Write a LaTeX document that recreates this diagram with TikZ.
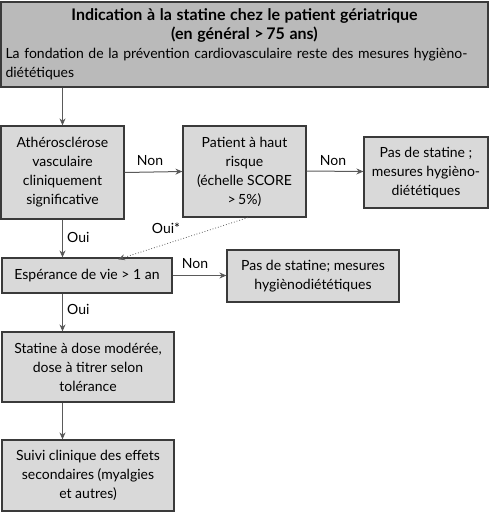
\documentclass[tikz,border=0pt]{standalone}
\usepackage{fontspec}
\setmainfont{Lato}
\usetikzlibrary{arrows.meta,calc}
\definecolor{boxfill}{HTML}{D9D9D9}
\definecolor{topfill}{HTML}{BABABA}
\definecolor{edge}{HTML}{3A3A3A}
\definecolor{arr}{HTML}{5A5A5A}
\begin{document}
\begin{tikzpicture}[x=1pt,y=-1pt,
  every node/.style={font=\fontsize{14}{19}\selectfont, text=black},
  box/.style={draw=edge, line width=1.2pt, fill=boxfill, align=center, inner sep=2pt},
  flow/.style={draw=arr, line width=1pt, -{Stealth[length=7pt,width=6pt,fill=black!85]}},
  dotflow/.style={draw=arr, line width=0.8pt, dotted, -{Stealth[length=7pt,width=6pt,open]}},
  lbl/.style={inner sep=1pt}]
\useasboundingbox (0,0) rectangle (489,512);
\node[box, fill=topfill, minimum width=487pt, minimum height=85pt, text width=478pt, align=left] (top) at (244.5,44.5)
 {{\centering\fontsize{16}{19}\selectfont\bfseries Indication à la statine chez le patient gériatrique\\(en général >\,75 ans)\par}\raggedright La fondation de la prévention cardiovasculaire reste des mesures hygièno-\\diététiques};
\node[box, minimum width=123pt, minimum height=93pt] (ath) at (62.5,172.5) {Athérosclérose\\vasculaire\\cliniquement\\significative};
\node[box, minimum width=123pt, minimum height=91pt] (pat) at (244.5,171.5) {Patient à haut\\risque\\(échelle SCORE\\>\,5\%)};
\node[box, minimum width=124pt, minimum height=71pt] (pas1) at (426,172.5) {Pas de statine ;\\mesures hygièno-\\diététiques};
\node[box, minimum width=170pt, minimum height=35pt] (esp) at (87,275.5) {Espérance de vie > 1 an};
\node[box, minimum width=172pt, minimum height=52pt] (pas2) at (313,276) {Pas de statine; mesures\\hygiènodiététiques};
\node[box, minimum width=172pt, minimum height=70pt] (sta) at (88,367) {Statine à dose modérée,\\dose à titrer selon\\tolérance};
\node[box, minimum width=172pt, minimum height=71pt] (sui) at (88,475.5) {Suivi clinique des effets\\secondaires (myalgies\\et autres)};
\draw[flow] (ath.north |- top.south) -- (ath.north);
\draw[flow] (ath.east) -- (pat.west);
\draw[flow] ([yshift=0.5pt]pat.east) -- (pat.east -| pas1.west);
\draw[flow] (ath.south) -- (ath.south |- esp.north);
\draw[flow] (esp.east) -- (esp.east -| pas2.west);
\draw[flow] (ath.south |- esp.south) -- (ath.south |- sta.north);
\draw[flow] (ath.south |- sta.south) -- (ath.south |- sui.north);
\coordinate (dotend) at ([xshift=31pt,yshift=-2pt]esp.north);
\draw[dotflow] ([xshift=3.5pt]pat.south) -- (dotend);
\node[lbl] (n1) at (150,161) {Non};
\node[lbl] (n2) at (333,161) {Non};
\node[lbl] (n3) at (195,264) {Non};
\node[lbl, anchor=west] (o1) at (66,237) {Oui};
\node[lbl, anchor=west] (o2) at (66,309) {Oui};
\node[lbl] (o3) at (166,228) {Oui*};
\end{tikzpicture}
\end{document}
